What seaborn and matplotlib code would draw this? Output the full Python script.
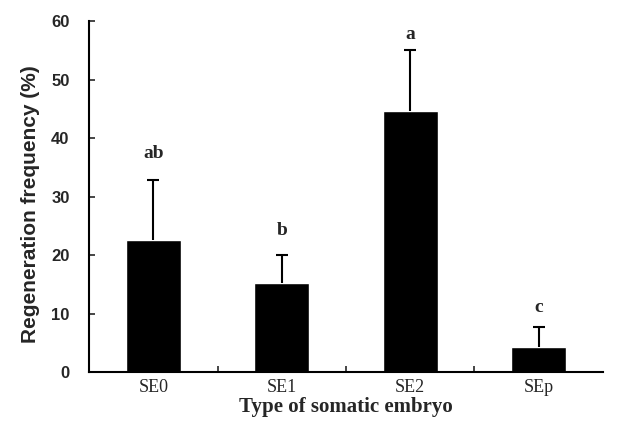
import matplotlib
matplotlib.use("Agg")
import matplotlib.pyplot as plt
import seaborn as sns
import pandas as pd
import numpy as np

categories = ["SE0", "SE1", "SE2", "SEp"]
means = [22.6, 15.2, 44.6, 4.2]
errors = [10.3, 4.8, 10.5, 3.5]
letters = ["ab", "b", "a", "c"]
letter_heights = [36.0, 22.8, 56.3, 9.5]

sns.set_style("white")
df = pd.DataFrame({"type": categories, "freq": means})

fig = plt.figure(figsize=(6.36, 4.29), dpi=100)
ax = fig.add_axes([0.14, 0.133, 0.808, 0.817])
sns.barplot(data=df, x="type", y="freq", color="black", width=0.43,
            saturation=1, ax=ax, errorbar=None)
x = np.arange(len(categories))
_, caps, _ = ax.errorbar(x, means, yerr=[np.zeros(len(means)), errors], fmt="none",
                         ecolor="black", elinewidth=1.5, capsize=4, capthick=1.5)
caps[0].set_visible(False)
for xi, h, lab in zip(x, letter_heights, letters):
    ax.text(xi, h, lab, ha="center", va="bottom",
            family="Liberation Serif", fontweight="bold", fontsize=14)

ax.set_xlim(-0.5, 3.5)
ax.set_ylim(0, 60)
ax.set_yticks(range(0, 61, 10))
ax.set_xticks(x)
ax.set_xticklabels(categories, family="Liberation Serif", fontsize=13)
for t in ax.get_yticklabels():
    t.set_family("Liberation Sans")
    t.set_fontweight("bold")
    t.set_fontsize(12)
ax.tick_params(axis="y", direction="in", length=4, width=1.2, pad=14, left=True)
ax.tick_params(axis="x", length=0, pad=5)
ax.set_xticks([0.5, 1.5, 2.5], minor=True)
ax.tick_params(axis="x", which="minor", direction="in", length=4, width=1.2, bottom=True)

ax.set_ylabel("Regeneration frequency (%)", family="Liberation Sans",
              fontweight="bold", fontsize=15)
ax.yaxis.set_label_coords(-0.095, 0.48)
ax.set_xlabel("Type of somatic embryo", family="Liberation Serif",
              fontweight="bold", fontsize=15, labelpad=1)
for s in ["top", "right"]:
    ax.spines[s].set_visible(False)
for s in ["left", "bottom"]:
    ax.spines[s].set_color("black")
    ax.spines[s].set_linewidth(1.5)

fig.savefig("out.png", dpi=100)
